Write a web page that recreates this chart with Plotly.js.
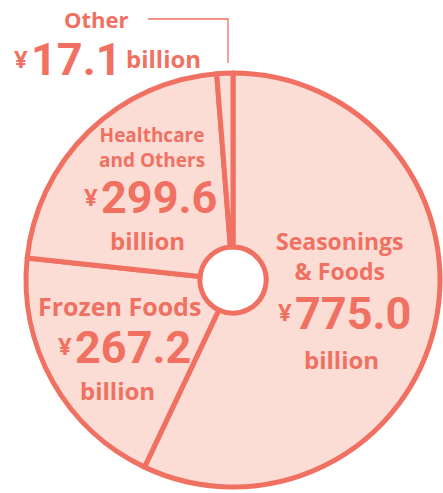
<!DOCTYPE html>
<html><head><meta charset="utf-8">
<script src="https://cdn.plot.ly/plotly-3.0.1.min.js"></script>
<style>html,body{margin:0;padding:0;background:#fff}</style>
</head><body><div id="chart" style="width:443px;height:493px"></div>
<script>
// ---- data ----
const segments = ["Seasonings & Foods", "Frozen Foods", "Healthcare and Others", "Other"];
const values = [775.0, 267.2, 299.6, 17.1];
const labelLines = [["Seasonings", "& Foods"], ["Frozen Foods"], ["Healthcare", "and Others"], ["Other"]];
const currency = "¥";
const unit = "billion";

// ---- style ----
const CORAL = "#F07062";
const FILL = "#FCDDD5";
const W = 443, H = 493;
const LABEL_FONT = "Open Sans, Roboto, sans-serif";
const NUM_FONT = "Roboto, sans-serif";

// label placement (pixel positions of each text block)
const place = [
  {lx: 340, ly: 256, lsize: 23, yenX: 294, yenY: 311, numY: 313, numSize: 45, bx: 341, by: 359},
  {lx: 119, ly: 306, lsize: 25, yenX: 74, yenY: 345, numY: 347, numSize: 45, bx: 118, by: 390},
  {lx: 152, ly: 147, lsize: 19, yenX: 100, yenY: 196, numY: 198, numSize: 45, bx: 147, by: 240}
];

const px = x => x / W;
const py = y => 1 - y / H;
const annotations = [];
function ann(text, x, y, size, family, xanchor) {
  annotations.push({text: text, x: px(x), y: py(y), xref: "paper", yref: "paper",
    xanchor: xanchor || "center", yanchor: "middle", showarrow: false,
    font: {family: family, size: size, color: CORAL, weight: "bold"}});
}
place.forEach((p, i) => {
  ann(labelLines[i].join("<br>"), p.lx, p.ly, p.lsize, LABEL_FONT);
  ann(currency, p.yenX, p.yenY, 24, LABEL_FONT, "right");
  ann(values[i].toFixed(1), p.yenX - 1, p.numY, p.numSize, NUM_FONT, "left");
  ann(unit, p.bx, p.by, 24, LABEL_FONT);
});
// small "Other" slice, labelled outside
ann(labelLines[3][0], 96, 19, 22, LABEL_FONT);
ann(currency, 30, 58, 24, LABEL_FONT, "right");
ann(values[3].toFixed(1), 29, 60, 45, NUM_FONT, "left");
ann(unit, 163, 59, 24, LABEL_FONT);

const trace = {
  type: "pie", values: values, labels: segments, sort: false, direction: "clockwise", rotation: 0,
  hole: 0.16, textinfo: "none", hoverinfo: "none",
  marker: {colors: values.map(() => FILL), line: {color: CORAL, width: 5}},
  domain: {x: [px(233 - 207), px(233 + 207)], y: [py(487), py(73)]}
};
const layout = {
  width: W, height: H, margin: {l: 0, r: 0, t: 0, b: 0}, showlegend: false,
  paper_bgcolor: "#fff", plot_bgcolor: "#fff", annotations: annotations,
  shapes: [{type: "path", xref: "paper", yref: "paper", path: "M " + px(148) + "," + py(19) + " L " + px(228) + "," + py(19) + " L " + px(228) + "," + py(63),
    line: {color: CORAL, width: 1.3}}]
};
Plotly.newPlot("chart", [trace], layout, {staticPlot: true, displayModeBar: false});
</script></body></html>
